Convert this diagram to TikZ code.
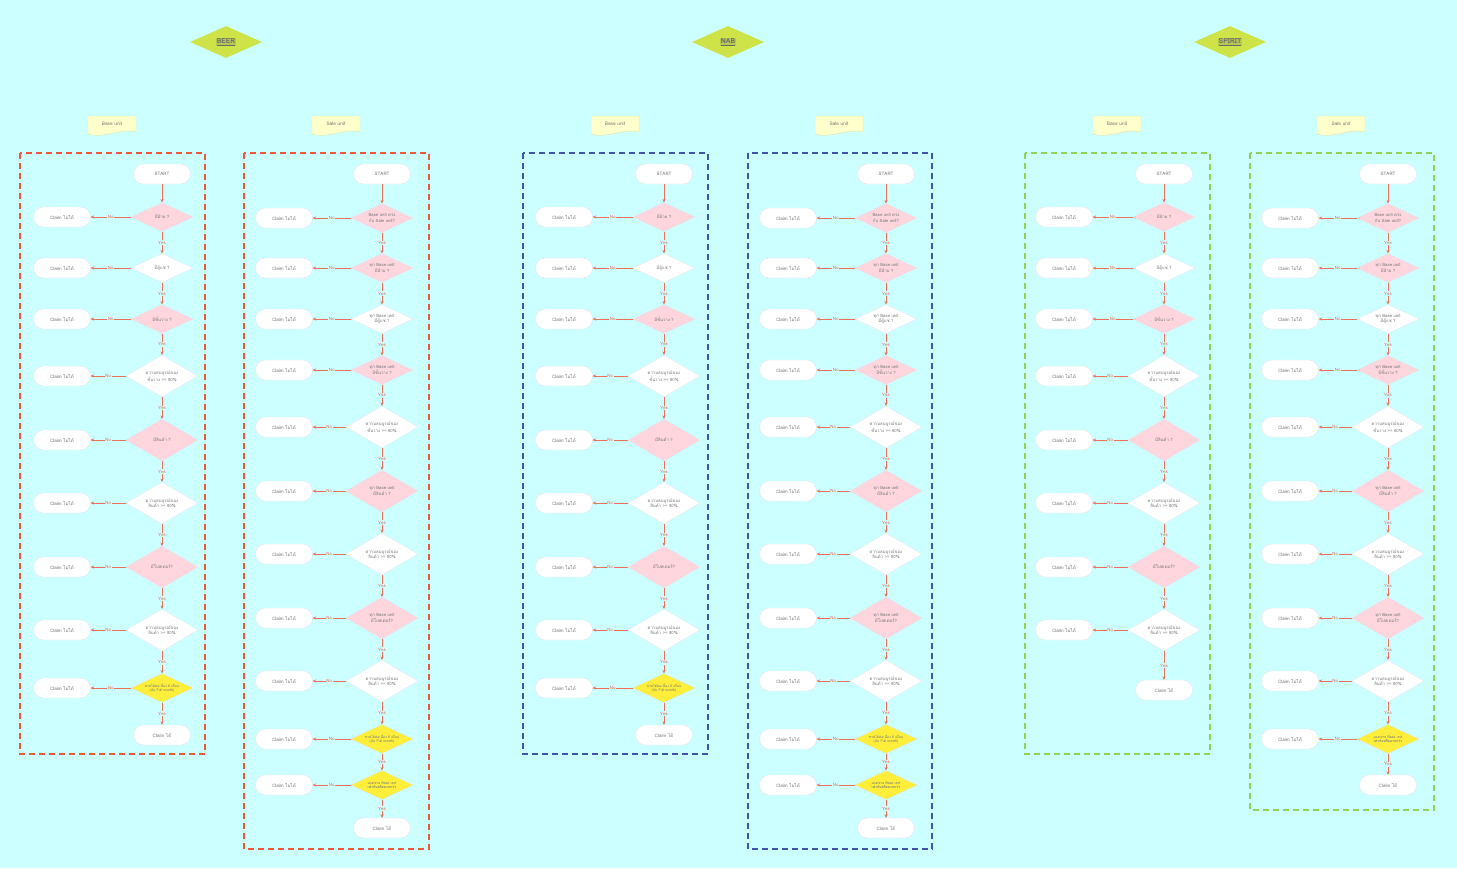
\documentclass[tikz,border=0pt]{standalone}
\usepackage{fontspec}
\newfontfamily\thai[Script=Thai]{Loma}
\usetikzlibrary{shapes.geometric,arrows.meta}
\definecolor{bgc}{RGB}{204,255,255}
\definecolor{pinkd}{RGB}{255,214,222}
\definecolor{yeld}{RGB}{255,238,58}
\definecolor{hdrc}{RGB}{205,227,72}
\definecolor{hdrhl}{RGB}{182,200,82}
\definecolor{conncol}{RGB}{236,112,90}
\definecolor{labcol}{RGB}{232,100,80}
\definecolor{txtc}{RGB}{118,118,118}
\definecolor{redd}{RGB}{236,88,56}
\definecolor{blued}{RGB}{64,84,170}
\definecolor{greend}{RGB}{145,212,85}
\definecolor{notef}{RGB}{255,255,204}
\definecolor{notel}{RGB}{222,228,170}
\definecolor{edgec}{RGB}{226,228,236}

\newcommand\Dia[7]{%
  \node[#6] (#1d#2) at (#3,#5) {#7};
  \node[termbox] (#1c#2) at (#4,#5) {Claim ไม่ได้};
  \draw[connarrow] (#1d#2) -- node[arrlab]{No} (#1c#2);
}
\newcommand\Link[2]{\draw[connarrow] (#1) -- node[arrlab]{Yes} (#2);}

% base unit column rows 1-8
\newcommand\BaseRows[3]{%
  \node[termbox] (#1s) at (#2,174) {START};
  \Dia{#1}{1}{#2}{#3}{217}{dsm,pk}{มีป้าย ?}
  \draw[connarrow] (#1s) -- (#1d1);
  \Dia{#1}{2}{#2}{#3}{268}{dsm,wh}{มีตู้แช่ ?}
  \Link{#1d1}{#1d2}
  \Dia{#1}{3}{#2}{#3}{319}{dsm,pk}{มีชั้นวาง ?}
  \Link{#1d2}{#1d3}
  \Dia{#1}{4}{#2}{#3}{376}{dlg,wh}{ความสมบูรณ์ของ\\ชั้นวาง >= 80\%}
  \Link{#1d3}{#1d4}
  \Dia{#1}{5}{#2}{#3}{440}{dlg,pk}{มีสินค้า ?}
  \Link{#1d4}{#1d5}
  \Dia{#1}{6}{#2}{#3}{503}{dlg,wh}{ความสมบูรณ์ของ\\สินค้า >= 80\%}
  \Link{#1d5}{#1d6}
  \Dia{#1}{7}{#2}{#3}{567}{dlg,pk}{มีโปสเตอร์?}
  \Link{#1d6}{#1d7}
  \Dia{#1}{8}{#2}{#3}{630}{dlg,wh}{ความสมบูรณ์ของ\\สินค้า >= 80\%}
  \Link{#1d7}{#1d8}
}
% sale unit column rows 1-9
\newcommand\SaleRows[3]{%
  \node[termbox] (#1s) at (#2,174) {START};
  \Dia{#1}{1}{#2}{#3}{218}{dsm,pk}{Base unit ตรง\\กับ Sale unit?}
  \draw[connarrow] (#1s) -- (#1d1);
  \Dia{#1}{2}{#2}{#3}{268}{dsm,pk}{ทุก Base unit\\มีป้าย ?}
  \Link{#1d1}{#1d2}
  \Dia{#1}{3}{#2}{#3}{319}{dsm,wh}{ทุก Base unit\\มีตู้แช่ ?}
  \Link{#1d2}{#1d3}
  \Dia{#1}{4}{#2}{#3}{370}{dsm,pk}{ทุก Base unit\\มีชั้นวาง ?}
  \Link{#1d3}{#1d4}
  \Dia{#1}{5}{#2}{#3}{427}{dlg,wh}{ความสมบูรณ์ของ\\ชั้นวาง >= 80\%}
  \Link{#1d4}{#1d5}
  \Dia{#1}{6}{#2}{#3}{491}{dlg,pk}{ทุก Base unit\\มีสินค้า ?}
  \Link{#1d5}{#1d6}
  \Dia{#1}{7}{#2}{#3}{554}{dlg,wh}{ความสมบูรณ์ของ\\สินค้า >= 80\%}
  \Link{#1d6}{#1d7}
  \Dia{#1}{8}{#2}{#3}{618}{dlg,pk}{ทุก Base unit\\มีโปสเตอร์?}
  \Link{#1d7}{#1d8}
  \Dia{#1}{9}{#2}{#3}{681}{dlg,wh}{ความสมบูรณ์ของ\\สินค้า >= 80\%}
  \Link{#1d8}{#1d9}
}
\newcommand\SixMonth{ขายได้ต่อเนื่อง 6 เดือน\\(นับ Full month)}
\newcommand\SaleBase{ยอดขาย Base unit\\\textbf{เท่ากับหรือมากกว่า}}

\newcommand\NoteBox[3]{%
  \filldraw[fill=notef, draw=notel, line width=0.4pt]
    (#2-24,116) -- (#2+24,116) -- (#2+24,132)
    .. controls (#2+8,128) and (#2-8,139) .. (#2-24,134) -- cycle;
  \node[notetext] (#1) at (#2,124) {#3};
}

\begin{document}
\begin{tikzpicture}[x=1pt,y=-1pt,
  font=\thai\fontsize{4.6}{5.6}\selectfont, text=txtc,
  termbox/.style={draw=edgec, line width=0.4pt, fill=white, rounded corners=9.8pt,
    minimum width=57pt, minimum height=20pt, inner sep=0pt},
  dsm/.style={diamond, aspect=2.2, minimum width=62pt, minimum height=29pt, inner sep=0pt,
    draw=edgec, line width=0.3pt, align=center, font=\thai\fontsize{4.3}{5.3}\selectfont},
  dlg/.style={diamond, aspect=1.7, minimum width=72pt, minimum height=42pt, inner sep=0pt,
    draw=edgec, line width=0.3pt, align=center, font=\thai\fontsize{4.3}{5.3}\selectfont},
  pk/.style={fill=pinkd},
  wh/.style={fill=white},
  yl/.style={fill=yeld, font=\thai\fontsize{3.5}{4.5}\selectfont},
  connarrow/.style={draw=conncol, line width=1pt, -{Stealth[length=3.4pt,width=3.2pt]}},
  arrlab/.style={fill=bgc, inner sep=0.8pt, text=labcol, font=\thai\fontsize{4.4}{5}\selectfont},
  hdrd/.style={diamond, aspect=2.25, minimum width=72pt, minimum height=32pt, inner sep=0pt,
    fill=hdrc, font=\thai\bfseries\fontsize{7}{8}\selectfont, text={rgb,255:red,105;green,105;blue,105}},
  notetext/.style={inner sep=0pt, font=\thai\fontsize{4.8}{5.8}\selectfont},
  groupbox/.style={line width=1.5pt, dash pattern=on 6pt off 4pt}
]
\useasboundingbox (0,0) rectangle (1457,868);
\fill[bgc] (0,0) rectangle (1457,868);

% headers
\setlength\fboxsep{0.6pt}
\node[hdrd] (hBeer) at (226,42) {\colorbox{hdrhl}{\underline{BEER}}};
\node[hdrd] (hNab) at (728,42) {\colorbox{hdrhl}{\underline{NAB}}};
\node[hdrd] (hSpirit) at (1230,42) {\colorbox{hdrhl}{\underline{SPIRIT}}};

% notes
\NoteBox{nB1}{112}{Base unit}
\NoteBox{nB2}{336}{Sale unit}
\NoteBox{nN1}{615}{Base unit}
\NoteBox{nN2}{839}{Sale unit}
\NoteBox{nS1}{1117}{Base unit}
\NoteBox{nS2}{1341}{Sale unit}

% group boxes
\draw[groupbox, draw=redd] (20,153) rectangle (205,754);
\draw[groupbox, draw=redd] (244,153) rectangle (429,849);
\draw[groupbox, draw=blued] (523,153) rectangle (708,754);
\draw[groupbox, draw=blued] (748,153) rectangle (932,849);
\draw[groupbox, draw=greend] (1025,153) rectangle (1210,754);
\draw[groupbox, draw=greend] (1250,153) rectangle (1434,810);

% BEER base
\BaseRows{A}{162}{62}
\Dia{A}{9}{162}{62}{688}{dsm,yl}{\SixMonth}
\Link{Ad8}{Ad9}
\node[termbox] (Ae) at (162,735) {Claim ได้};
\Link{Ad9}{Ae}

% BEER sale
\SaleRows{B}{382}{284}
\Dia{B}{10}{382}{284}{739}{dsm,yl}{\SixMonth}
\Link{Bd9}{Bd10}
\Dia{B}{11}{382}{284}{785}{dsm,yl}{\SaleBase}
\Link{Bd10}{Bd11}
\node[termbox] (Be) at (382,828) {Claim ได้};
\Link{Bd11}{Be}

% NAB base
\BaseRows{C}{664}{564}
\Dia{C}{9}{664}{564}{688}{dsm,yl}{\SixMonth}
\Link{Cd8}{Cd9}
\node[termbox] (Ce) at (664,735) {Claim ได้};
\Link{Cd9}{Ce}

% NAB sale
\SaleRows{D}{886}{788}
\Dia{D}{10}{886}{788}{739}{dsm,yl}{\SixMonth}
\Link{Dd9}{Dd10}
\Dia{D}{11}{886}{788}{785}{dsm,yl}{\SaleBase}
\Link{Dd10}{Dd11}
\node[termbox] (De) at (886,828) {Claim ได้};
\Link{Dd11}{De}

% SPIRIT base
\BaseRows{E}{1164}{1064}
\node[termbox] (Ee) at (1164,690) {Claim ได้};
\Link{Ed8}{Ee}

% SPIRIT sale
\SaleRows{F}{1388}{1290}
\Dia{F}{10}{1388}{1290}{739}{dsm,yl}{\SaleBase}
\Link{Fd9}{Fd10}
\node[termbox] (Fe) at (1388,785) {Claim ได้};
\Link{Fd10}{Fe}
\end{tikzpicture}
\end{document}
